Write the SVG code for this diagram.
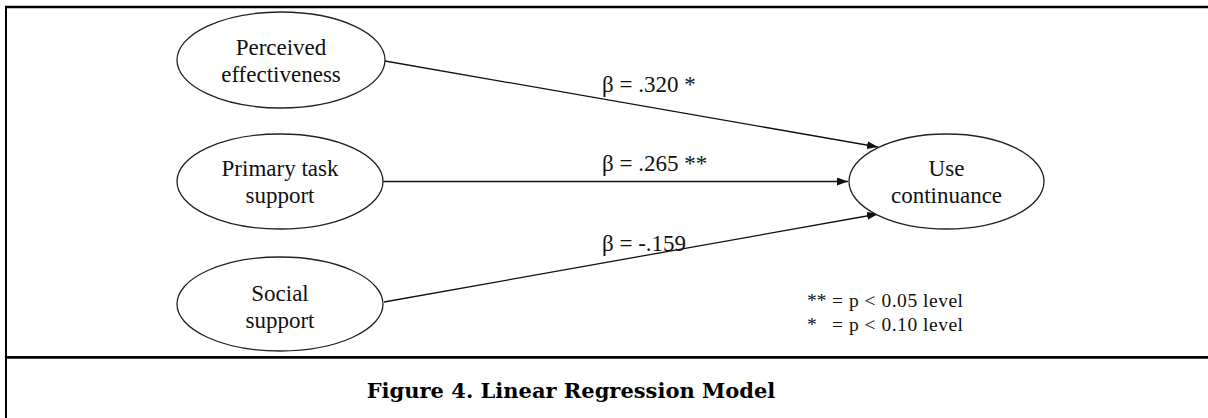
<svg xmlns="http://www.w3.org/2000/svg" width="1208" height="418" viewBox="0 0 1208 418">
<style>
.node ellipse{fill:#fff;stroke:#222;stroke-width:1.3}
.node text{font-family:"Liberation Serif","Times New Roman",serif;font-size:23px;fill:#111;text-anchor:middle}
.conn line{stroke:#111;stroke-width:1.3;marker-end:url(#arr)}
.lbl{font-family:"Liberation Serif","Times New Roman",serif;font-size:23px;fill:#111}
.leg{font-family:"Liberation Serif","Times New Roman",serif;font-size:19.5px;fill:#111}
.frame{stroke:#000;fill:none}
.title{font-family:"DejaVu Serif","Liberation Serif",serif;font-weight:bold;font-size:21px;fill:#000;text-anchor:middle}
</style>
<defs>
<marker id="arr" markerUnits="userSpaceOnUse" markerWidth="12" markerHeight="10" refX="11" refY="4" orient="auto">
<path d="M0,0 L11,4 L0,8 Z" fill="#111"/>
</marker>
</defs>
<rect width="1208" height="418" fill="#fff"/>
<g id="frame">
<line class="frame" x1="5" y1="7" x2="1208" y2="7" stroke-width="2.5"/>
<line class="frame" x1="6" y1="6" x2="6" y2="418" stroke-width="2"/>
<line class="frame" x1="6" y1="357.3" x2="1208" y2="357.3" stroke-width="2.8"/>
</g>
<g id="connectors" class="conn">
<line x1="385" y1="61" x2="878" y2="147"/>
<line x1="383" y1="181.5" x2="848" y2="181.5"/>
<line x1="384" y1="302" x2="878" y2="214"/>
</g>
<g id="labels">
<text class="lbl" x="602" y="92">β = .320 *</text>
<text class="lbl" x="602" y="171">β = .265 **</text>
<text class="lbl" x="602" y="251">β = -.159</text>
</g>
<g id="n-perceived" class="node">
<ellipse cx="281" cy="60" rx="104" ry="48"/>
<text x="281" y="55">Perceived</text>
<text x="281" y="82">effectiveness</text>
</g>
<g id="n-primary" class="node">
<ellipse cx="280" cy="181.5" rx="103" ry="47.5"/>
<text x="280" y="176">Primary task</text>
<text x="280" y="203">support</text>
</g>
<g id="n-social" class="node">
<ellipse cx="280" cy="304" rx="103" ry="47"/>
<text x="280" y="301">Social</text>
<text x="280" y="328">support</text>
</g>
<g id="n-use" class="node">
<ellipse cx="946.5" cy="181.5" rx="97.5" ry="47.5"/>
<text x="946.5" y="176">Use</text>
<text x="946.5" y="203">continuance</text>
</g>
<g id="legend">
<text class="leg" x="807" y="307">**</text>
<text class="leg" x="832" y="307" textLength="131">= p &lt; 0.05 level</text>
<text class="leg" x="807" y="331">*</text>
<text class="leg" x="832" y="331" textLength="131">= p &lt; 0.10 level</text>
</g>
<text class="title" x="571" y="398">Figure 4. Linear Regression Model</text>
</svg>
